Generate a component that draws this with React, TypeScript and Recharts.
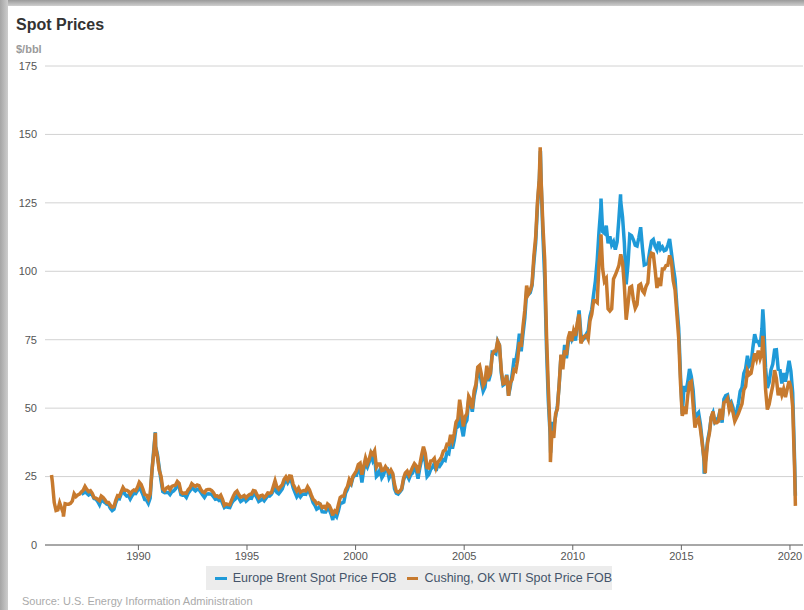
import { LineChart, Line, XAxis, YAxis, CartesianGrid } from 'recharts';

// monthly averages, $/bbl, one row per year
const WTI_START = { year: 1986, month: 0 };
const wtiByYear = [
  [22.9, 15.5, 12.6, 12.8, 15.4, 13.5, 11.6, 15.1, 14.9, 14.9, 15.2, 16.1],
  [18.7, 17.7, 18.3, 18.6, 19.4, 20.0, 21.4, 20.3, 19.5, 19.8, 18.9, 17.3],
  [17.1, 16.7, 16.2, 17.9, 17.4, 16.5, 15.5, 15.5, 14.5, 13.8, 14.0, 16.3],
  [18.0, 17.8, 19.4, 21.0, 20.0, 20.0, 19.6, 18.5, 19.6, 20.1, 19.8, 21.1],
  [22.9, 22.1, 20.4, 18.4, 18.2, 16.9, 18.6, 27.2, 33.7, 35.9, 32.3, 27.3],
  [25.2, 20.5, 19.9, 20.8, 21.2, 20.2, 21.4, 21.7, 21.9, 23.2, 22.5, 19.5],
  [18.8, 19.0, 18.9, 20.2, 20.9, 22.4, 21.8, 21.4, 21.9, 21.7, 20.3, 19.4],
  [19.1, 20.1, 20.3, 20.3, 19.9, 19.1, 17.9, 18.0, 17.5, 18.2, 16.7, 14.5],
  [15.0, 14.8, 14.7, 16.4, 17.9, 19.1, 19.7, 18.4, 17.5, 17.7, 18.1, 17.2],
  [18.0, 18.5, 18.6, 19.9, 19.7, 18.4, 17.3, 18.0, 18.2, 17.4, 18.0, 19.0],
  [18.9, 19.1, 21.3, 23.5, 21.2, 20.4, 21.3, 22.0, 24.0, 24.9, 23.7, 25.2],
  [25.1, 22.2, 20.9, 19.7, 20.8, 19.3, 19.7, 19.9, 19.8, 21.3, 20.2, 18.3],
  [16.7, 16.1, 15.0, 15.4, 14.9, 13.7, 14.1, 13.4, 15.0, 14.4, 12.9, 11.3],
  [12.5, 12.0, 14.7, 17.3, 17.8, 17.9, 20.1, 21.3, 23.9, 22.6, 25.0, 26.1],
  [27.2, 29.4, 29.9, 25.7, 28.8, 31.8, 29.7, 31.3, 33.9, 33.1, 34.4, 28.5],
  [29.6, 29.6, 27.2, 27.4, 28.6, 27.6, 26.4, 27.4, 26.2, 22.2, 19.6, 19.3],
  [19.7, 20.7, 24.4, 26.3, 27.0, 25.5, 26.9, 28.4, 29.7, 28.9, 26.3, 29.4],
  [32.9, 35.9, 33.5, 28.3, 28.1, 30.7, 30.8, 31.6, 28.3, 30.3, 31.1, 32.2],
  [34.3, 34.7, 36.8, 36.7, 40.3, 38.0, 40.7, 44.9, 46.0, 53.1, 48.5, 43.3],
  [46.8, 48.0, 54.3, 53.0, 49.8, 56.3, 58.7, 65.0, 65.6, 62.4, 58.3, 59.4],
  [65.5, 61.6, 62.7, 69.4, 70.8, 70.9, 74.4, 73.0, 63.8, 58.9, 59.1, 62.0],
  [54.5, 59.3, 60.4, 64.0, 63.5, 67.5, 74.1, 72.4, 79.9, 85.8, 94.8, 91.7],
  [93.0, 95.4, 105.5, 112.6, 125.4, 133.9, 133.4, 116.7, 104.1, 76.6, 57.3, 41.1],
  [41.7, 39.1, 47.9, 49.7, 59.0, 69.6, 64.2, 71.1, 69.4, 75.7, 78.0, 74.5],
  [78.3, 76.4, 81.2, 84.3, 73.7, 75.3, 76.3, 76.6, 75.2, 81.9, 84.3, 89.2],
  [89.2, 88.6, 102.9, 109.5, 100.9, 96.3, 97.3, 86.3, 85.5, 86.3, 97.2, 98.6],
  [100.3, 102.2, 106.2, 103.3, 94.7, 82.3, 87.9, 94.1, 94.5, 89.5, 86.5, 87.9],
  [94.8, 95.3, 92.9, 92.0, 94.5, 95.8, 104.6, 106.6, 106.3, 100.5, 93.9, 97.6],
  [94.6, 100.8, 100.8, 102.1, 102.2, 105.8, 103.6, 96.5, 93.2, 84.4, 75.8, 59.3],
  [47.2, 50.6, 47.8, 54.5, 59.3, 59.8, 50.9, 42.9, 45.5, 46.2, 42.4, 37.2],
  [31.7, 30.3, 37.5, 40.8, 46.7, 48.8, 44.7, 44.7, 45.2, 49.8, 45.7, 52.0],
  [52.5, 53.5, 49.3, 51.1, 48.5, 45.2, 46.6, 48.0, 49.8, 51.6, 56.6, 57.9],
  [63.7, 62.2, 62.7, 66.3, 70.0, 67.9, 71.0, 68.1, 70.2, 70.8, 57.0, 49.5],
  [51.4, 55.0, 58.2, 63.9, 60.8, 54.7, 57.4, 54.8, 57.0, 54.0, 57.0, 59.9],
  [57.5, 50.5, 29.2],
];

// Brent series begins May 1987
const BRENT_START = { year: 1987, month: 4 };
const brentByYear = [
  [18.6, 18.9, 19.8, 18.9, 18.3, 18.8, 18.3, 17.0],
  [16.8, 15.9, 14.7, 16.6, 16.0, 15.5, 14.9, 14.8, 13.4, 12.6, 13.1, 15.4],
  [17.1, 16.9, 18.7, 20.3, 18.6, 17.9, 18.1, 16.8, 18.0, 18.9, 18.8, 19.9],
  [20.9, 19.9, 18.4, 16.6, 16.4, 15.2, 17.1, 27.2, 34.9, 36.0, 33.1, 28.3],
  [23.6, 19.5, 19.1, 19.2, 19.2, 18.4, 19.4, 19.8, 20.5, 22.2, 21.2, 18.4],
  [18.2, 18.2, 17.4, 18.9, 19.8, 21.1, 20.4, 19.8, 20.4, 20.3, 19.3, 18.3],
  [17.4, 18.5, 18.7, 18.6, 18.5, 17.6, 16.7, 16.9, 16.3, 16.9, 15.2, 13.7],
  [14.2, 13.8, 13.7, 15.2, 16.2, 16.8, 17.9, 17.1, 15.9, 16.4, 17.2, 16.0],
  [16.6, 17.2, 17.1, 18.6, 18.4, 17.3, 15.9, 16.3, 16.9, 16.2, 17.1, 18.1],
  [17.9, 18.6, 19.8, 20.9, 19.2, 18.7, 19.6, 20.5, 22.4, 24.0, 22.7, 23.8],
  [23.5, 20.9, 19.2, 17.6, 18.6, 17.6, 18.5, 18.6, 18.5, 20.2, 19.2, 17.6],
  [15.5, 14.5, 13.1, 13.5, 14.4, 12.2, 12.1, 12.1, 13.4, 12.9, 11.2, 9.8],
  [11.1, 10.3, 12.5, 15.3, 15.3, 15.7, 19.0, 20.3, 22.5, 22.0, 24.6, 25.5],
  [25.5, 27.8, 27.5, 22.8, 27.6, 29.6, 28.4, 30.2, 33.1, 30.9, 32.5, 25.0],
  [25.7, 27.5, 24.5, 25.6, 28.1, 27.9, 24.5, 25.8, 25.6, 20.5, 18.9, 18.6],
  [19.4, 20.3, 23.7, 25.7, 25.4, 24.1, 25.7, 26.3, 28.4, 27.5, 24.2, 28.2],
  [31.2, 32.8, 30.4, 25.0, 25.8, 27.6, 28.4, 29.8, 27.1, 29.6, 28.8, 29.8],
  [31.2, 30.9, 33.8, 33.4, 37.6, 35.2, 38.2, 42.7, 43.2, 49.8, 43.1, 39.7],
  [44.3, 45.6, 53.1, 51.9, 48.7, 54.3, 57.5, 63.9, 63.8, 59.5, 56.2, 57.6],
  [63.9, 59.9, 62.3, 70.4, 70.2, 69.8, 74.4, 73.0, 62.8, 58.4, 58.9, 62.2],
  [54.6, 57.8, 62.4, 67.5, 67.2, 71.3, 77.2, 70.8, 77.1, 82.9, 92.5, 91.5],
  [92.2, 94.8, 103.3, 110.4, 123.9, 133.1, 133.0, 113.2, 97.2, 71.6, 52.5, 40.0],
  [44.9, 43.2, 47.0, 50.8, 58.6, 69.3, 65.8, 73.1, 68.2, 73.9, 77.5, 75.2],
  [76.9, 74.7, 79.9, 85.7, 76.9, 74.9, 75.6, 77.1, 78.2, 83.5, 86.1, 91.5],
  [96.5, 104.0, 114.6, 123.3, 114.5, 113.9, 116.7, 110.2, 112.8, 109.6, 110.8, 107.9],
  [110.7, 119.3, 125.5, 119.8, 110.3, 95.2, 102.6, 113.4, 113.0, 111.5, 109.5, 109.2],
  [112.3, 116.1, 108.5, 102.3, 102.6, 102.9, 107.4, 111.0, 111.6, 109.1, 107.8, 110.8],
  [108.1, 108.9, 107.5, 107.8, 109.5, 111.8, 106.8, 101.6, 97.1, 87.4, 79.4, 62.3],
  [47.8, 58.1, 56.0, 59.5, 64.3, 61.5, 56.6, 46.5, 47.6, 48.4, 44.3, 38.0],
  [30.7, 32.2, 38.2, 41.6, 46.7, 48.3, 44.9, 45.8, 46.6, 49.5, 44.7, 53.3],
  [54.6, 54.9, 51.6, 52.3, 50.3, 46.4, 48.5, 51.7, 56.2, 57.5, 62.7, 64.4],
  [69.1, 65.3, 66.0, 72.1, 77.0, 74.4, 74.3, 72.5, 78.9, 81.0, 64.8, 57.4],
  [59.4, 64.0, 66.1, 71.2, 71.3, 64.2, 63.9, 59.0, 62.8, 59.7, 63.2, 67.3],
  [63.6, 55.7, 32.0],
];

// daily extremes the monthly averages smooth away [decimal year, price]
const wtiSpikes = [
  [1986.0, 25.6], [1986.55, 10.4], [1990.78, 41.0], [1998.95, 10.8],
  [2008.5, 145.3], [2008.97, 30.3], [2011.3, 113.5], [2016.1, 26.2],
  [2018.75, 76.4], [2020.25, 14.3],
];
const brentSpikes = [
  [1990.78, 41.2], [1998.95, 9.1], [2008.51, 143.9], [2008.98, 33.7],
  [2011.3, 126.6], [2012.2, 128.1], [2016.05, 26.0], [2018.75, 86.1],
  [2020.25, 18.0],
];

const yTicks = [0, 25, 50, 75, 100, 125, 150, 175];
const xTicks = [1990, 1995, 2000, 2005, 2010, 2015, 2020];

const BRENT = '#1f9ad8';
const WTI = '#c77a2e';
const FONT = '"Liberation Sans", Arial, sans-serif';

function buildSeries(start: { year: number; month: number }, rows: number[][], spikes: number[][]) {
  const pts: { t: number; v: number }[] = [];
  rows.forEach((row, yi) => {
    row.forEach((v, mi) => {
      const m = yi === 0 ? start.month + mi : mi;
      pts.push({ t: start.year + yi + (m + 0.5) / 12, v });
    });
  });
  spikes.forEach(([t, v]) => pts.push({ t, v }));
  return pts.sort((a, b) => a.t - b.t);
}

const wtiData = buildSeries(WTI_START, wtiByYear, wtiSpikes);
const brentData = buildSeries(BRENT_START, brentByYear, brentSpikes);

export default function App() {
  return (
    <div style={{ position: 'absolute', left: 0, top: 0, width: 804, height: 610, background: '#fff', overflow: 'hidden', fontFamily: FONT }}>
      {/* card shadow */}
      <div style={{ position: 'absolute', left: 0, top: 0, width: 804, height: 6, background: 'linear-gradient(to bottom, #9a9a9a, #cfcfcf)' }} />
      <div style={{ position: 'absolute', left: 0, top: 0, width: 8, height: 610, background: 'linear-gradient(to right, #a5a5a5, #cdcdcd)' }} />

      <div style={{ position: 'absolute', left: 16, top: 16, fontSize: 16, fontWeight: 'bold', color: '#333' }}>Spot Prices</div>
      <div style={{ position: 'absolute', left: 16, top: 43, fontSize: 11, fontWeight: 'bold', color: '#9a9a9a' }}>$/bbl</div>

      <div style={{ position: 'absolute', left: 0, top: 0 }}>
        <LineChart width={804} height={580} margin={{ top: 66, right: 1, bottom: 5, left: 0 }}>
          <CartesianGrid vertical={false} stroke="#d2d2d2" />
          <XAxis
            type="number"
            dataKey="t"
            domain={[1985.7, 2020.6]}
            ticks={xTicks}
            allowDataOverflow
            height={30}
            stroke="#666"
            tickSize={5}
            tick={{ fontSize: 11, fill: '#555', fontFamily: FONT }}
          />
          <YAxis
            type="number"
            domain={[0, 175]}
            ticks={yTicks}
            width={45}
            axisLine={false}
            tickLine={false}
            tick={{ fontSize: 11, fill: '#555', fontFamily: FONT }}
          />
          <Line data={brentData} dataKey="v" name="Europe Brent Spot Price FOB" stroke={BRENT} strokeWidth={3.5} dot={false} type="linear" isAnimationActive={false} />
          <Line data={wtiData} dataKey="v" name="Cushing, OK WTI Spot Price FOB" stroke={WTI} strokeWidth={3.5} dot={false} type="linear" isAnimationActive={false} />
        </LineChart>
      </div>

      <div style={{ position: 'absolute', left: 206, top: 566, width: 406, height: 24, background: '#ececec', display: 'flex', alignItems: 'center', fontSize: 12.5, color: '#44546a', whiteSpace: 'nowrap' }}>
        <span style={{ display: 'inline-block', width: 15, height: 3, background: BRENT, marginLeft: 9, marginRight: 6 }} />
        <span>Europe Brent Spot Price FOB</span>
        <span style={{ display: 'inline-block', width: 15, height: 3, background: WTI, marginLeft: 10, marginRight: 6 }} />
        <span>Cushing, OK WTI Spot Price FOB</span>
      </div>

      <div style={{ position: 'absolute', left: 22, top: 595, fontSize: 11, color: '#aaa' }}>Source: U.S. Energy Information Administration</div>
    </div>
  );
}
